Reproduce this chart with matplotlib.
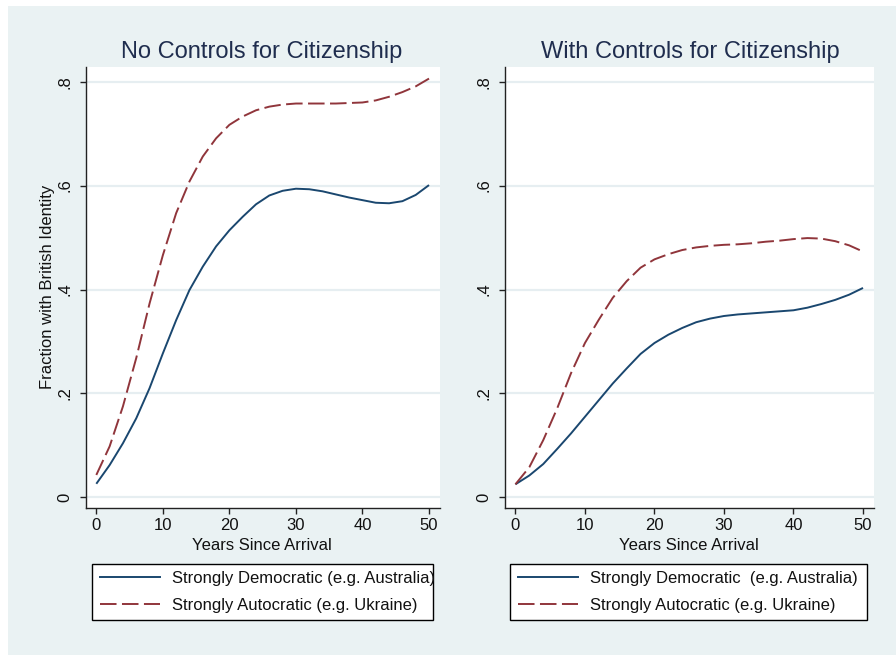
import matplotlib
matplotlib.use("Agg")
import matplotlib.pyplot as plt
from matplotlib.patches import Rectangle
from matplotlib.lines import Line2D

plt.rcParams['font.family'] = ['Liberation Sans', 'DejaVu Sans']

# ---- data -------------------------------------------------------------
years = [0, 2, 4, 6, 8, 10, 12, 14, 16, 18, 20, 22, 24, 26, 28, 30,
         32, 34, 36, 38, 40, 42, 44, 46, 48, 50]

# No controls for citizenship
nc_democratic = [0.026, 0.062, 0.104, 0.152, 0.210, 0.277, 0.341, 0.399,
                 0.444, 0.483, 0.514, 0.540, 0.564, 0.581, 0.590, 0.594,
                 0.593, 0.589, 0.583, 0.577, 0.572, 0.567, 0.566, 0.570,
                 0.582, 0.601]
nc_autocratic = [0.043, 0.098, 0.175, 0.268, 0.373, 0.466, 0.547, 0.608,
                 0.656, 0.691, 0.717, 0.733, 0.745, 0.752, 0.756, 0.758,
                 0.758, 0.758, 0.758, 0.759, 0.760, 0.764, 0.771, 0.780,
                 0.791, 0.806]

# With controls for citizenship
wc_democratic = [0.025, 0.042, 0.064, 0.093, 0.123, 0.155, 0.187, 0.219,
                 0.248, 0.276, 0.297, 0.313, 0.326, 0.337, 0.344, 0.349,
                 0.352, 0.354, 0.356, 0.358, 0.360, 0.365, 0.372, 0.380,
                 0.390, 0.403]
wc_autocratic = [0.025, 0.058, 0.110, 0.171, 0.239, 0.297, 0.342, 0.384,
                 0.416, 0.442, 0.458, 0.468, 0.476, 0.481, 0.484, 0.486,
                 0.487, 0.489, 0.492, 0.494, 0.497, 0.499, 0.498, 0.493,
                 0.485, 0.473]

xticks = [0, 10, 20, 30, 40, 50]
yticks = [0, 0.2, 0.4, 0.6, 0.8]
ytick_labels = ['0', '.2', '.4', '.6', '.8']

titles = ['No Controls for Citizenship', 'With Controls for Citizenship']
legend_labels = [
    ['Strongly Democratic (e.g. Australia)', 'Strongly Autocratic (e.g. Ukraine)'],
    ['Strongly Democratic  (e.g. Australia)', 'Strongly Autocratic (e.g. Ukraine)'],
]
xlabel = 'Years Since Arrival'
ylabel = 'Fraction with British Identity'

# ---- style ------------------------------------------------------------
W, H = 896, 656
BG = '#EAF2F3'
GRID = '#E6EEF1'
NAVY = '#1A476F'
MAROON = '#90353B'
TITLE_C = '#1F2D4E'
TEXT_C = '#111111'

fig = plt.figure(figsize=(W / 100, H / 100), dpi=100, facecolor='white')
fig.patches.append(Rectangle((8 / W, 1 - 655 / H), (W - 8) / W, (655 - 6) / H,
                             transform=fig.transFigure, facecolor=BG,
                             edgecolor='none', zorder=-10))


def px_axes(x0, y0, x1, y1):
    return fig.add_axes([x0 / W, 1 - y1 / H, (x1 - x0) / W, (y1 - y0) / H])


panels = [
    dict(box=(86, 67, 440, 508), xlim=(-1.55, 51.65), title_x=262,
         xlabel_x=262, series=(nc_democratic, nc_autocratic),
         legend=(92, 563, 433, 621)),
    dict(box=(505, 67, 874, 508), xlim=(-1.50, 51.58), title_x=690,
         xlabel_x=689, series=(wc_democratic, wc_autocratic),
         legend=(510, 563, 867, 621)),
]

for i, p in enumerate(panels):
    ax = px_axes(*p['box'])
    ax.set_facecolor('white')
    ax.set_xlim(*p['xlim'])
    ax.set_ylim(-0.0206, 0.8283)

    for yv in yticks:
        ax.axhline(yv, color=GRID, lw=1.6, zorder=0)

    dem, aut = p['series']
    ax.plot(years, dem, color=NAVY, lw=1.4, solid_capstyle='butt', zorder=3)
    ax.plot(years, aut, color=MAROON, lw=1.4, dashes=(8.5, 2.8), zorder=3)

    ax.set_xticks(xticks)
    ax.set_xticklabels([str(t) for t in xticks])
    ax.set_yticks(yticks)
    ax.set_yticklabels(ytick_labels, rotation=90, va='center')
    ax.tick_params(axis='both', direction='out', length=4.5, width=1.0,
                   color='#222222', labelsize=12, labelcolor=TEXT_C)
    ax.tick_params(axis='x', pad=3)
    ax.tick_params(axis='y', pad=5)

    for side in ('top', 'right'):
        ax.spines[side].set_visible(False)
    for side in ('left', 'bottom'):
        ax.spines[side].set_color('#222222')
        ax.spines[side].set_linewidth(1.0)

    fig.text(p['title_x'] / W, 1 - 52 / H, titles[i], fontsize=17,
             color=TITLE_C, ha='center', va='center')
    fig.text(p['xlabel_x'] / W, 1 - 545 / H, xlabel,
             fontsize=12, color=TEXT_C, ha='center', va='center')

    lx0, ly0, lx1, ly1 = p['legend']
    handles = [Line2D([], [], color=NAVY, lw=1.4),
               Line2D([], [], color=MAROON, lw=1.4, dashes=(8.5, 2.8))]
    leg = fig.legend(handles, legend_labels[i], loc='center',
                     bbox_to_anchor=(lx0 / W, 1 - ly1 / H, (lx1 - lx0) / W,
                                     (ly1 - ly0) / H),
                     bbox_transform=fig.transFigure, mode='expand',
                     fontsize=12, frameon=True, fancybox=False,
                     edgecolor='black', facecolor='white', framealpha=1,
                     handlelength=3.6, handletextpad=0.75, labelspacing=0.7,
                     borderpad=0.45, borderaxespad=0)
    leg.get_frame().set_linewidth(1.0)
    for t in leg.get_texts():
        t.set_color(TEXT_C)

fig.text(48 / W, 1 - 287 / H, ylabel, fontsize=12, color=TEXT_C,
         rotation=90, ha='center', va='center')

fig.savefig('out.png', dpi=100, facecolor='white')
